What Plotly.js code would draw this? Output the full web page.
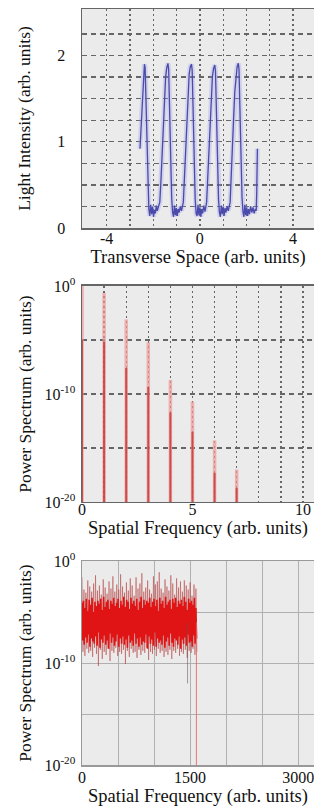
<!DOCTYPE html>
<html>
<head>
<meta charset="utf-8">
<script src="https://cdn.plot.ly/plotly-3.0.1.min.js"></script>
<style>
html,body{margin:0;padding:0;background:#fff;overflow:hidden;}
#chart{width:314px;height:807px;}
</style>
</head>
<body>
<div id="chart"></div>
<script>
// ---------- Panel 1: light intensity vs transverse space ----------
const transX = [
  -2.57,-2.54,-2.51,-2.48,-2.45,-2.42,-2.38,-2.35,-2.32,-2.29,-2.26,-2.23,-2.19,-2.15,-2.11,-2.07,-2.03,-1.99,-1.95,-1.91,-1.87,-1.83,-1.79,
  -1.72,-1.67,-1.62,-1.57,-1.52,-1.47,-1.42,-1.37,-1.34,-1.31,-1.28,-1.25,-1.21,-1.17,-1.13,-1.09,-1.05,-1.01,-0.97,-0.93,-0.89,-0.84,-0.79,
  -0.71,-0.66,-0.61,-0.56,-0.51,-0.46,-0.41,-0.36,-0.33,-0.30,-0.27,-0.24,-0.20,-0.16,-0.12,-0.08,-0.04,0.00,0.04,0.08,0.12,0.17,0.22,
  0.29,0.34,0.39,0.44,0.49,0.54,0.59,0.64,0.67,0.70,0.73,0.76,0.80,0.84,0.88,0.92,0.96,1.00,1.04,1.08,1.12,1.17,1.22,
  1.30,1.35,1.40,1.45,1.50,1.55,1.60,1.65,1.68,1.71,1.74,1.77,1.81,1.85,1.89,1.93,1.97,2.01,2.05,2.09,2.13,2.18,2.23,2.28,2.33,2.38,2.42,
  2.44,2.46,2.47
];
const intensity = [
  0.92,1.08,1.32,1.52,1.64,1.80,1.90,1.86,1.55,1.10,0.70,0.40,0.22,0.14,0.27,0.16,0.25,0.13,0.21,0.17,0.26,0.20,0.24,
  0.30,0.55,0.90,1.25,1.55,1.75,1.86,1.91,1.84,1.50,1.05,0.65,0.35,0.18,0.13,0.26,0.15,0.23,0.14,0.22,0.18,0.25,0.20,
  0.30,0.58,0.95,1.30,1.60,1.78,1.87,1.90,1.83,1.45,1.00,0.62,0.33,0.17,0.14,0.27,0.15,0.24,0.13,0.22,0.17,0.26,0.19,
  0.30,0.60,0.98,1.32,1.60,1.76,1.85,1.89,1.82,1.48,1.02,0.63,0.34,0.18,0.13,0.26,0.16,0.25,0.14,0.23,0.18,0.25,0.20,
  0.30,0.57,0.93,1.28,1.58,1.77,1.87,1.91,1.84,1.50,1.05,0.66,0.36,0.19,0.13,0.27,0.15,0.24,0.14,0.22,0.16,0.25,0.18,0.24,0.17,0.22,0.20,
  0.40,0.65,0.92
];
const xTicks1 = [-4, 0, 4];
const xGrid1 = [-3, -2, -1, 1, 2, 3];
const yTicks1 = [0, 1, 2];
const yGrid1 = [0.25, 0.5, 0.75, 1.25, 1.5, 1.75, 2.25];

// ---------- Panel 2: harmonic power spectrum (log10 exponents) ----------
const harmonicFreq = [0,1,2,3,4,5,6,7];
const harmonicPeakExp = [0, -0.65, -3.1, -5.2, -8.7, -10.7, -14.3, -17.0];
const harmonicCoreExp = [-5.0, -5.2, -7.6, -9.35, -11.7, -13.5, -17.3, -18.7];
const xTicks2 = [0, 5, 10];
const xGrid2 = [1, 2, 3, 4, 6, 7, 8, 9];

// ---------- Panel 3: broadband power spectrum (log10 exponents) ----------
const bandCoreExp = [
  -4.1,-7.8,-3.9,-8.2,-4.6,-7.5,-3.7,-8.0,-4.9,-7.2,
  -3.8,-8.4,-4.3,-7.6,-3.6,-7.9,-5.0,-8.1,-4.0,-7.4,
  -4.4,-8.3,-3.9,-7.0,-4.2,-8.5,-3.7,-7.7,-4.8,-8.0,
  -3.5,-7.3,-4.5,-8.2,-4.0,-7.8,-3.8,-8.6,-4.7,-7.1,
  -3.9,-8.0,-4.2,-7.5,-3.6,-8.3,-4.4,-7.9,-4.1,-7.2,
  -3.7,-8.4,-4.6,-7.6,-3.9,-8.1,-4.3,-7.4,-3.5,-8.2,
  -4.5,-7.7,-3.8,-8.5,-4.0,-7.3,-4.7,-8.0,-3.6,-7.8,
  -4.2,-8.3,-3.9,-7.1,-4.4,-8.1,-3.7,-7.6,-4.8,-8.4,
  -4.0,-7.5,-3.5,-8.2,-4.6,-7.9,-3.8,-8.0,-4.3,-7.2,
  -3.9,-8.6,-4.1,-7.4,-3.6,-8.1,-4.5,-7.7,-4.0,-8.3,
  -3.7,-7.0,-4.4,-8.4,-3.8,-7.6,-4.9,-8.0,-3.6,-7.8,
  -4.2,-8.2,-3.9,-7.3,-4.6,-8.5,-3.5,-7.9,-4.3,-7.5,
  -4.0,-8.3,-3.8,-7.1,-4.7,-8.0,-3.7,-8.4,-4.1,-7.6,
  -3.6,-7.8,-4.5,-8.2,-3.9,-7.4,-4.2,-8.6,-3.8,-7.7,
  -4.4,-8.1,-3.5,-7.5,-4.0,-8.3,-4.8,-7.2,-3.7,-8.0,
  -4.1,-7.9,-3.9,-8.4,-4.3,-7.3,-3.6,-8.1,-4.6,-7.6
];
const bandFringeExp = [
  -1.6,-8.9,-2.8,-9.3,-3.1,-8.6,-1.9,-9.0,-2.5,-8.8,
  -3.0,-9.4,-2.2,-8.5,-1.4,-9.1,-2.9,-10.3,-2.4,-8.7,
  -3.3,-9.6,-1.8,-8.9,-2.6,-9.2,-3.2,-8.6,-2.0,-9.8,
  -2.7,-8.8,-1.5,-9.0,-3.0,-8.5,-2.3,-9.3,-2.8,-8.9,
  -1.3,-9.1,-2.5,-8.7,-3.1,-10.1,-2.1,-8.8,-2.9,-9.4,
  -1.7,-8.6,-2.4,-9.0,-3.4,-8.9,-1.6,-9.5,-2.7,-8.7,
  -2.2,-9.2,-1.2,-8.8,-3.0,-9.0,-2.6,-8.5,-1.9,-9.7,
  -2.8,-8.9,-3.2,-9.1,-1.5,-8.7,-2.3,-9.3,-2.0,-8.6,
  -1.1,-9.0,-2.7,-8.8,-3.1,-9.4,-1.8,-8.9,-2.5,-9.2,
  -2.9,-8.7,-1.4,-9.6,-2.2,-8.8,-3.3,-9.0,-1.7,-8.6,
  -2.6,-9.3,-2.0,-8.9,-3.0,-9.1,-1.9,-8.7,-2.4,-9.5,
  -2.8,-8.8,-2.1,-9.0,-3.4,-8.6,-2.3,-9.2,-2.7,-8.9
];
const bandCoreStart = 0, bandCoreStep = 10;      // spectral sampling of core trace
const bandFringeStart = 0, bandFringeStep = 13.4; // spectral sampling of fringe trace
const dropFreq = [1465, 1588];
const dropTopExp = [-6, -6];
const dropBottomExp = [-12, -20];
const dropColor = ['rgba(110,80,80,0.55)', 'rgba(230,100,100,0.85)'];
const xTicks3 = [0, 1500, 3000];
const xGrid3 = [500, 1000, 2000, 2500];

const logTicks = [1e-20, 1e-10, 1];
const logTickText = ['10<sup>-20</sup>','10<sup>-10</sup>','10<sup>0</sup>'];
const logGrid = [1e-15, 1e-5];

const pow = e => Math.pow(10, e);
function stems(xs, tops, bottoms) {
  const X = [], Y = [];
  xs.forEach((x, i) => { X.push(x, x, null); Y.push(pow(bottoms[i]), pow(tops[i]), null); });
  return {X, Y};
}

const traces = [];
// Panel 1
traces.push({x: transX, y: intensity, xaxis: 'x', yaxis: 'y', mode: 'lines',
  line: {color: 'rgba(150,150,240,0.3)', width: 5}, hoverinfo: 'skip', showlegend: false});
traces.push({x: transX, y: intensity, xaxis: 'x', yaxis: 'y', mode: 'lines',
  line: {color: '#4a4aaa', width: 1.3}, showlegend: false});

// Panel 2
const pk = stems(harmonicFreq, harmonicPeakExp, harmonicFreq.map(() => -20));
const core = stems(harmonicFreq, harmonicCoreExp, harmonicFreq.map(() => -20));
traces.push({x: pk.X, y: pk.Y, xaxis: 'x2', yaxis: 'y2', mode: 'lines',
  line: {color: 'rgba(240,150,150,0.7)', width: 3.5}, showlegend: false});
traces.push({x: core.X, y: core.Y, xaxis: 'x2', yaxis: 'y2', mode: 'lines',
  line: {color: 'rgba(200,60,60,0.85)', width: 2}, showlegend: false});

// Panel 3
traces.push({x0: bandFringeStart, dx: bandFringeStep, y: bandFringeExp.map(pow), xaxis: 'x3', yaxis: 'y3',
  mode: 'lines', line: {color: 'rgba(185,75,75,0.55)', width: 1}, showlegend: false});
traces.push({x0: bandCoreStart, dx: bandCoreStep, y: bandCoreExp.map(pow), xaxis: 'x3', yaxis: 'y3',
  mode: 'lines', line: {color: '#e01414', width: 1.6}, showlegend: false});
dropFreq.forEach((f, i) => {
  traces.push({x: [f, f], y: [pow(dropTopExp[i]), pow(dropBottomExp[i])], xaxis: 'x3', yaxis: 'y3',
    mode: 'lines', line: {color: dropColor[i], width: 1}, showlegend: false});
});

const FONT = '"Liberation Serif", "Times New Roman", Times, serif';
const xTitleFont = {family: FONT, size: 18.5, color: '#111'};
const yTitleFont = {family: FONT, size: 17.5, color: '#111'};
const tickFont = {family: FONT, size: 16, color: '#111'};

function xax(range, tv, tt, minorVals, title, standoff, lstand, dotted, gcol) {
  const dash = dotted ? '2px,3px' : 'solid', gw = dotted ? 1.3 : 1;
  return {range: range, tickmode: 'array', tickvals: tv, ticktext: tt, tickfont: tickFont, ticklabeloverflow: 'allow',
    ticks: '', ticklabelstandoff: lstand, showgrid: true, gridcolor: gcol, gridwidth: gw, griddash: dash,
    minor: {tickmode: 'array', tickvals: minorVals, ticks: '', showgrid: true, gridcolor: gcol, gridwidth: gw, griddash: dash},
    zeroline: false, showline: true, mirror: true, linecolor: '#666', linewidth: 1.5,
    title: {text: title, font: xTitleFont, standoff: standoff}, automargin: false, fixedrange: true};
}
function yax(range, type, tv, tt, minorVals, title, standoff, lstand, dashed, gcol) {
  const dash = dashed ? '5px,4px' : 'solid', gw = dashed ? 1.3 : 1;
  return {range: range, type: type, tickmode: 'array', tickvals: tv, ticktext: tt, tickfont: tickFont, ticklabeloverflow: 'allow',
    ticks: '', ticklabelstandoff: lstand, showgrid: true, gridcolor: gcol, gridwidth: gw, griddash: dash,
    minor: {tickmode: 'array', tickvals: minorVals, ticks: '', showgrid: true, gridcolor: gcol, gridwidth: gw, griddash: dash},
    zeroline: false, showline: true, mirror: false,
    linecolor: '#666', linewidth: 1.5, title: {text: title, font: yTitleFont, standoff: standoff},
    automargin: false, fixedrange: true};
}

const layout = {
  width: 314, height: 807,
  margin: {l: 82, r: 0, t: 9, b: 42},
  paper_bgcolor: '#ffffff', plot_bgcolor: '#ebebeb',
  showlegend: false,
  xaxis: Object.assign(xax([-5.06, 4.9], xTicks1, xTicks1.map(String), xGrid1, 'Transverse Space (arb. units)', 3, -5, true, '#666'), {anchor: 'y', domain: [0, 1]}),
  yaxis: Object.assign(yax([0, 2.54], 'linear', yTicks1, yTicks1.map(String), yGrid1, 'Light Intensity (arb. units)', 22, 12, true, '#666'), {anchor: 'x', domain: [0.7103, 1]}),
  xaxis2: Object.assign(xax([0, 10.5], xTicks2, xTicks2.map(String), xGrid2, 'Spatial Frequency (arb. units)', 0, -8, true, '#666'), {anchor: 'y2', domain: [0, 1]}),
  yaxis2: Object.assign(yax([-20, 0], 'log', logTicks, logTickText, logGrid, 'Power Spectrum (arb. units)', 8, 2, true, '#666'), {anchor: 'x2', domain: [0.3479, 0.6336]}),
  xaxis3: Object.assign(xax([0, 3220], xTicks3, xTicks3.map(String), xGrid3, 'Spatial Frequency (arb. units)', 6, -3, false, '#b0b0b0'), {anchor: 'y3', domain: [0, 1], linecolor: '#999'}),
  yaxis3: Object.assign(yax([-20, 0], 'log', logTicks, logTickText, logGrid, 'Power Spectrum (arb. units)', 8, 2, false, '#b0b0b0'), {anchor: 'x3', domain: [0, 0.2698], linecolor: '#999'})
};

Plotly.newPlot('chart', traces, layout, {displayModeBar: false, staticPlot: true});
</script>
</body>
</html>
